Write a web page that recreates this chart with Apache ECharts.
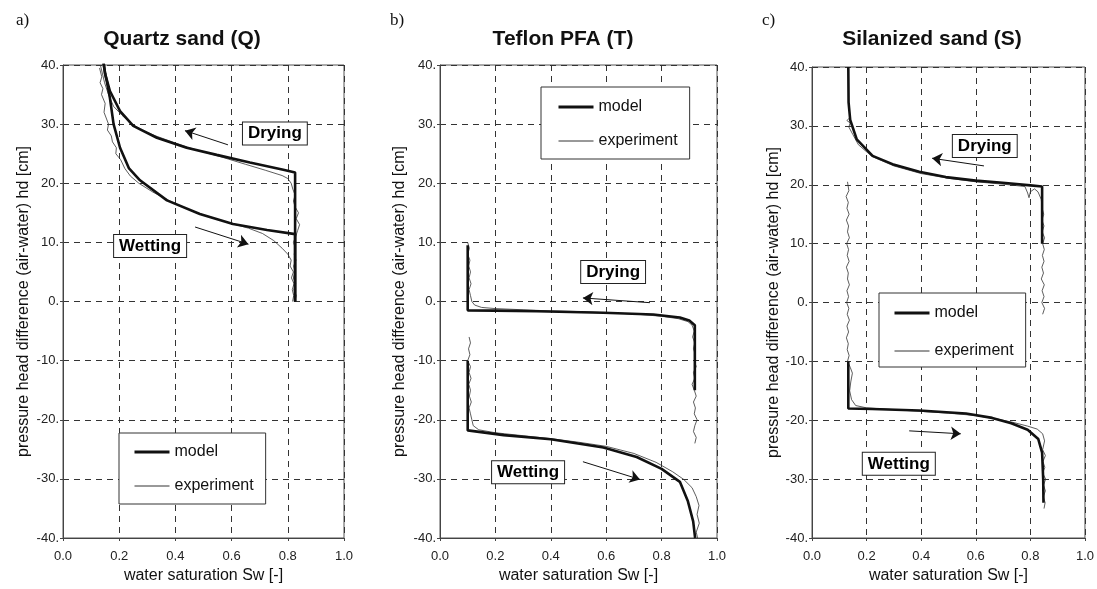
<!DOCTYPE html>
<html>
<head>
<meta charset="utf-8">
<script src="https://cdn.jsdelivr.net/npm/echarts@6/dist/echarts.min.js"></script>
<style>
html,body{margin:0;padding:0;background:#fff;}
#chart{width:1097px;height:589px;}
</style>
</head>
<body>
<div id="chart"></div>
<script>
// ---------- DATA ----------
const panelTitles = ['Quartz sand (Q)', 'Teflon PFA (T)', 'Silanized sand (S)'];
const panelLetters = ['a)', 'b)', 'c)'];
const xTicks = [0.0, 0.2, 0.4, 0.6, 0.8, 1.0];
const yTicks = [-40, -30, -20, -10, 0, 10, 20, 30, 40];
const xAxisTitle = 'water saturation Sw [-]';
const yAxisTitle = 'pressure head difference (air-water) hd [cm]';
const legendNames = ['model', 'experiment'];

// Quartz sand (Q): [Sw, hd]
const qModelDry = [[0.826,0],[0.826,21.8],[0.784,22.3],[0.665,23.5],[0.547,24.8],[0.44,26],[0.334,27.7],[0.25,29.7],[0.203,32.2],[0.167,35.6],[0.15,38.5],[0.143,40.8]];
const qModelWet = [[0.143,40.8],[0.15,38.5],[0.156,37.2],[0.167,34.4],[0.18,30],[0.203,26],[0.235,22.5],[0.274,20.5],[0.37,17.1],[0.487,14.8],[0.605,13.1],[0.726,12.1],[0.826,11.4],[0.826,0]];
const qExpDry = [[0.825,0],[0.83,1],[0.822,2],[0.828,3],[0.82,4],[0.826,5],[0.821,6],[0.829,7],[0.823,8],[0.827,9],[0.82,10],[0.828,11],[0.835,12],[0.842,13],[0.83,14],[0.838,15],[0.826,16],[0.82,17],[0.826,18],[0.818,19],[0.812,20],[0.80,20.8],[0.78,21.3],[0.72,22.2],[0.65,23.2],[0.56,24.5],[0.47,25.7],[0.40,26.8],[0.33,28],[0.28,29],[0.24,30.2],[0.21,31.5],[0.18,33],[0.162,35],[0.148,37],[0.138,39],[0.133,40]];
const qExpWet = [[0.13,39.5],[0.138,38],[0.132,37],[0.142,36],[0.137,35],[0.15,33.5],[0.146,32],[0.162,30],[0.158,29],[0.172,28],[0.176,27],[0.19,26],[0.188,25],[0.205,24],[0.22,22.5],[0.24,21.2],[0.27,20],[0.32,18.5],[0.38,17],[0.45,15.5],[0.52,14.3],[0.60,13.2],[0.66,12.4],[0.71,11.5],[0.75,10.3],[0.78,9],[0.80,8],[0.812,7],[0.808,6],[0.82,5],[0.813,4],[0.822,3],[0.816,2],[0.821,1],[0.817,0]];

// Teflon PFA (T)
const tModelDry = [[0.92,-15],[0.92,-4],[0.9,-3.2],[0.866,-2.7],[0.77,-2.2],[0.59,-1.9],[0.35,-1.65],[0.2,-1.55],[0.1,-1.5],[0.1,9.5]];
const tModelWet = [[0.1,-10],[0.1,-21.8],[0.23,-22.6],[0.40,-23.3],[0.59,-24.7],[0.71,-26.3],[0.80,-28.3],[0.866,-30.5],[0.895,-33.8],[0.914,-37.2],[0.921,-40]];
const tExpDry = [[0.92,-24],[0.925,-23],[0.915,-22],[0.92,-21],[0.928,-20],[0.918,-19],[0.922,-18],[0.915,-17],[0.925,-16],[0.918,-15],[0.91,-14],[0.92,-13],[0.915,-12],[0.925,-11],[0.918,-10],[0.922,-9],[0.915,-8],[0.92,-7],[0.912,-6],[0.918,-5],[0.91,-4],[0.895,-3.4],[0.86,-2.9],[0.8,-2.5],[0.7,-2.1],[0.6,-1.9],[0.5,-1.7],[0.4,-1.6],[0.3,-1.4],[0.2,-1.2],[0.15,-1],[0.125,-0.6],[0.115,0],[0.11,1],[0.105,2],[0.112,3],[0.105,4],[0.11,5],[0.104,6],[0.108,7],[0.1,8],[0.106,9],[0.1,10]];
const tExpWet = [[0.105,-6],[0.11,-7],[0.103,-8],[0.108,-9],[0.1,-10],[0.11,-11],[0.105,-12],[0.112,-13],[0.104,-14],[0.11,-15],[0.106,-16],[0.113,-17],[0.105,-18],[0.11,-19],[0.115,-20],[0.12,-21],[0.14,-21.7],[0.2,-22.2],[0.3,-22.7],[0.4,-23.2],[0.5,-23.8],[0.6,-24.5],[0.7,-25.7],[0.78,-27.2],[0.84,-28.8],[0.88,-30.1],[0.91,-31.5],[0.925,-33],[0.935,-34.5],[0.928,-36],[0.936,-37.5],[0.925,-39],[0.93,-40]];

// Silanized sand (S)
const sModelDry = [[0.843,10],[0.843,19.7],[0.8,19.9],[0.709,20.3],[0.6,20.7],[0.49,21.3],[0.393,22.2],[0.295,23.5],[0.222,24.9],[0.164,27.7],[0.14,31],[0.134,34],[0.133,40]];
const sModelWet = [[0.133,-10],[0.133,-18],[0.22,-18.1],[0.393,-18.35],[0.564,-18.85],[0.66,-19.6],[0.73,-20.5],[0.79,-21.6],[0.829,-23.2],[0.843,-25.5],[0.847,-30],[0.848,-34]];
const sExpDry = [[0.845,-2],[0.852,-1],[0.842,0],[0.85,1],[0.843,2],[0.851,3],[0.84,4],[0.848,5],[0.842,6],[0.85,7],[0.844,8],[0.851,9],[0.845,10],[0.852,11],[0.843,12],[0.85,13],[0.842,14],[0.849,15],[0.843,16],[0.84,17.5],[0.828,18.8],[0.815,19.3],[0.8,18.8],[0.795,17.8],[0.79,18.6],[0.78,19.7],[0.7,20.1],[0.6,20.5],[0.5,21.1],[0.4,21.9],[0.3,23.2],[0.22,24.8],[0.17,26.8],[0.15,28.5],[0.135,29.8],[0.14,30.5],[0.128,30.9],[0.136,31.3]];
const sExpWet = [[0.13,20.5],[0.135,19],[0.125,18],[0.133,17],[0.128,16],[0.136,15],[0.126,14],[0.134,13],[0.13,12],[0.137,11],[0.127,10],[0.134,9],[0.129,8],[0.136,7],[0.126,6],[0.133,5],[0.13,4],[0.137,3],[0.128,2],[0.134,1],[0.127,0],[0.135,-1],[0.129,-2],[0.137,-3],[0.128,-4],[0.134,-5],[0.126,-6],[0.133,-7],[0.129,-8],[0.136,-9],[0.13,-10],[0.14,-11],[0.148,-12],[0.142,-13.5],[0.138,-15],[0.145,-16.5],[0.16,-17.5],[0.2,-17.9],[0.3,-18.2],[0.4,-18.5],[0.5,-18.8],[0.6,-19.2],[0.68,-19.8],[0.74,-20.4],[0.79,-21],[0.825,-21.5],[0.845,-22.3],[0.852,-23.5],[0.845,-25],[0.855,-26],[0.846,-27],[0.853,-28],[0.845,-29],[0.856,-30],[0.848,-31],[0.855,-32],[0.847,-33],[0.854,-34],[0.85,-35]];

// Annotation labels [text, Sw, hd] and arrows [tail, head]
const qLabels = [['Drying', 0.754, 28.4], ['Wetting', 0.31, 9.4]];
const tLabels = [['Drying', 0.625, 5.0], ['Wetting', 0.318, -28.9]];
const sLabels = [['Drying', 0.633, 26.6], ['Wetting', 0.318, -27.4]];
const qArrows = [[[0.587,26.5],[0.434,28.9]], [[0.47,12.6],[0.66,9.7]]];
const tArrows = [[[0.758,-0.2],[0.516,0.6]], [[0.516,-27.1],[0.722,-30.1]]];
const sArrows = [[[0.63,23.2],[0.44,24.5]], [[0.356,-21.8],[0.545,-22.3]]];

// ---------- LAYOUT / STYLE ----------
const FONT = '"Liberation Sans", Arial, sans-serif';
const grids = [
  {left: 63, top: 65, width: 281, height: 477},
  {left: 440, top: 65, width: 277, height: 475},
  {left: 812, top: 67, width: 275, height: 476}
];
const titleCenters = [182, 563, 932];
const letterLefts = [16, 390, 762];
const yNameGaps = [31, 32, 29];
const legendPos = [
  {left: 119, top: 433, itemGap: 18, padding: [11, 12, 10, 14]},
  {left: 541, top: 87, itemGap: 18, padding: [12, 12, 10, 16]},
  {left: 879, top: 293, itemGap: 22, padding: [12, 12, 8, 14]}
];
const MODEL_STYLE = {color: '#111', width: 2.6};
const EXP_STYLE = {color: '#333', width: 0.8};

const panels = [
  {mDry: qModelDry, mWet: qModelWet, eDry: qExpDry, eWet: qExpWet, labels: qLabels, arrows: qArrows},
  {mDry: tModelDry, mWet: tModelWet, eDry: tExpDry, eWet: tExpWet, labels: tLabels, arrows: tArrows},
  {mDry: sModelDry, mWet: sModelWet, eDry: sExpDry, eWet: sExpWet, labels: sLabels, arrows: sArrows}
];

const option = {
  animation: false,
  backgroundColor: '#ffffff',
  color: ['#111', '#333'],
  title: [],
  legend: [],
  grid: [],
  xAxis: [],
  yAxis: [],
  series: []
};

panels.forEach((p, i) => {
  option.grid.push(Object.assign({show: true, borderColor: '#555', borderWidth: 1, containLabel: false}, grids[i]));
  option.title.push({
    text: panelTitles[i], left: titleCenters[i], top: 29, textAlign: 'center', padding: 0,
    textStyle: {fontFamily: FONT, fontSize: 21, fontWeight: 'bold', color: '#111'}
  });
  option.title.push({
    text: panelLetters[i], left: letterLefts[i], top: 12, padding: 0,
    textStyle: {fontFamily: '"Liberation Serif", serif', fontSize: 17, fontWeight: 'normal', color: '#111'}
  });
  option.xAxis.push({
    type: 'value', gridIndex: i, min: xTicks[0], max: xTicks[xTicks.length - 1], interval: 0.2,
    name: xAxisTitle, nameLocation: 'middle', nameGap: 30,
    nameTextStyle: {fontFamily: FONT, fontSize: 16, color: '#111'},
    axisLine: {show: true, onZero: false, lineStyle: {color: '#444', width: 1}},
    axisTick: {show: true, length: 3, lineStyle: {color: '#444'}},
    axisLabel: {fontFamily: FONT, fontSize: 13, color: '#222', margin: 12, formatter: v => v.toFixed(1)},
    splitLine: {show: true, lineStyle: {color: '#333', width: 1, type: [6, 5]}}
  });
  option.yAxis.push({
    type: 'value', gridIndex: i, min: yTicks[0], max: yTicks[yTicks.length - 1], interval: 10,
    name: yAxisTitle, nameLocation: 'middle', nameGap: yNameGaps[i], nameRotate: 90,
    nameTextStyle: {fontFamily: FONT, fontSize: 16, color: '#111'},
    axisLine: {show: true, onZero: false, lineStyle: {color: '#444', width: 1}},
    axisTick: {show: true, length: 3, lineStyle: {color: '#444'}},
    axisLabel: {fontFamily: FONT, fontSize: 13, color: '#222', margin: 4, formatter: v => v + '.'},
    splitLine: {show: true, lineStyle: {color: '#333', width: 1, type: [6, 5]}}
  });
  const base = {type: 'line', xAxisIndex: i, yAxisIndex: i, showSymbol: false, symbol: 'none', silent: true, clip: true};
  option.series.push(Object.assign({}, base, {name: 'experiment', data: p.eDry, lineStyle: EXP_STYLE, itemStyle: {color: EXP_STYLE.color}, z: 2}));
  option.series.push(Object.assign({}, base, {name: 'experiment', data: p.eWet, lineStyle: EXP_STYLE, itemStyle: {color: EXP_STYLE.color}, z: 2}));
  option.series.push(Object.assign({}, base, {name: 'model', data: p.mDry, lineStyle: MODEL_STYLE, itemStyle: {color: MODEL_STYLE.color}, z: 3}));
  option.series.push(Object.assign({}, base, {name: 'model', data: p.mWet, lineStyle: MODEL_STYLE, itemStyle: {color: MODEL_STYLE.color}, z: 3}));
  // annotation boxes
  option.series.push({
    type: 'scatter', name: 'annot' + i, xAxisIndex: i, yAxisIndex: i, symbolSize: 1, silent: true, z: 5,
    itemStyle: {color: 'rgba(0,0,0,0)', opacity: 1},
    data: p.labels.map(l => ({value: [l[1], l[2]], name: l[0]})),
    label: {
      show: true, position: 'inside', formatter: '{b}', opacity: 1,
      fontFamily: FONT, fontSize: 17, fontWeight: 'bold', color: '#000',
      backgroundColor: '#fff', borderColor: '#222', borderWidth: 1, padding: [3, 5, 2, 5]
    }
  });
  // arrows
  option.series.push({
    type: 'lines', name: 'arrow' + i, coordinateSystem: 'cartesian2d', xAxisIndex: i, yAxisIndex: i,
    silent: true, z: 6, symbol: ['none', 'arrow'], symbolSize: 10,
    lineStyle: {color: '#111', width: 1, opacity: 1, curveness: 0},
    itemStyle: {color: '#111'},
    data: p.arrows.map(a => ({coords: [a[0], a[1]]}))
  });
  option.legend.push({
    orient: 'vertical', left: legendPos[i].left, top: legendPos[i].top,
    itemGap: legendPos[i].itemGap, padding: legendPos[i].padding, itemWidth: 35, itemHeight: 14,
    selectedMode: false, borderColor: '#333', borderWidth: 1, backgroundColor: '#fff',
    itemStyle: {color: 'rgba(0,0,0,0)', borderWidth: 0, opacity: 0},
    textStyle: {fontFamily: FONT, fontSize: 16, color: '#111', lineHeight: 14},
    data: [
      {name: legendNames[0], lineStyle: {color: MODEL_STYLE.color, width: 3}},
      {name: legendNames[1], lineStyle: {color: EXP_STYLE.color, width: 1}}
    ]
  });
});

const chart = echarts.init(document.getElementById('chart'), null, {renderer: 'canvas'});
chart.setOption(option);
</script>
</body>
</html>
